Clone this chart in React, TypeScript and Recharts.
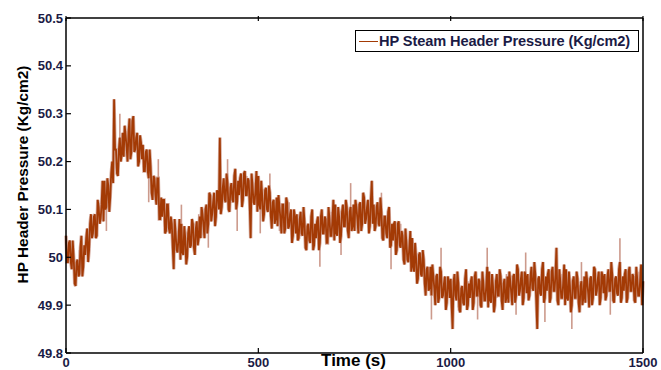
import { LineChart, Line, XAxis, YAxis, Legend, ErrorBar } from "recharts";

// every 5 s (t = 0, 5, 10 ...), band centre plus the visible jitter
const sampleStep = 5;
const pressure = [
  50.045, 49.99, 50.035, 49.975, 50.0, 49.94, 49.995, 49.965, 50.045, 49.98,
  50.005, 50.06, 50.015, 50.09, 50.05, 50.09, 50.045, 50.105, 50.08, 50.16,
  50.16, 50.105, 50.15, 50.125, 50.2, 50.33, 50.225, 50.17, 50.25, 50.215,
  50.21, 50.255, 50.2, 50.29, 50.22, 50.295, 50.225, 50.26, 50.2, 50.24,
  50.235, 50.18, 50.225, 50.165, 50.19, 50.12, 50.165, 50.11, 50.165, 50.08,
  50.085, 50.12, 50.055, 50.11, 50.05, 50.07, 49.975, 50.05, 50.01, 50.08,
  50.07, 50.005, 50.04, 50.0, 50.065, 50.025, 50.07, 50.005, 50.075, 50.04,
  50.04, 50.09, 50.04, 50.11, 50.07, 50.13, 50.09, 50.135, 50.085, 50.135,
  50.25, 50.105, 50.165, 50.115, 50.155, 50.095, 50.155, 50.115, 50.185, 50.115,
  50.13, 50.175, 50.12, 50.18, 50.13, 50.16, 50.04, 50.15, 50.11, 50.18,
  50.17, 50.1, 50.13, 50.09, 50.145, 50.095, 50.135, 50.06, 50.12, 50.08,
  50.065, 50.105, 50.05, 50.11, 50.06, 50.115, 50.065, 50.1, 50.045, 50.085,
  50.09, 50.04, 50.095, 50.045, 50.075, 50.015, 50.07, 50.03, 50.1, 50.025,
  50.04, 50.085, 50.03, 50.1, 50.05, 50.08, 50.03, 50.08, 50.045, 50.12,
  50.11, 50.045, 50.085, 50.045, 50.11, 50.065, 50.105, 50.04, 50.105, 50.065,
  50.055, 50.105, 50.05, 50.115, 50.07, 50.125, 50.08, 50.12, 50.065, 50.16,
  50.11, 50.065, 50.115, 50.065, 50.095, 50.035, 50.085, 50.04, 50.105, 50.025,
  50.035, 50.075, 50.015, 50.075, 50.02, 50.045, 49.985, 50.03, 49.99, 50.055,
  50.04, 49.97, 50.0, 49.955, 50.01, 49.96, 49.995, 49.92, 49.98, 49.935,
  49.92, 49.96, 49.9, 49.965, 49.915, 49.97, 49.92, 49.96, 49.905, 49.95,
  49.955, 49.85, 49.965, 49.91, 49.945, 49.885, 49.94, 49.9, 49.975, 49.9,
  49.915, 49.96, 49.905, 49.97, 49.92, 49.95, 49.895, 49.945, 49.91, 49.98,
  49.97, 49.905, 49.94, 49.9, 49.965, 49.92, 49.96, 49.89, 49.955, 49.915,
  49.905, 49.95, 49.9, 49.965, 49.92, 49.975, 49.93, 49.97, 49.915, 49.96,
  49.965, 49.92, 49.98, 49.93, 49.965, 49.85, 49.96, 49.92, 49.99, 49.915,
  49.93, 49.975, 49.915, 49.98, 49.93, 50.02, 49.9, 49.95, 49.915, 49.985,
  49.975, 49.91, 49.94, 49.9, 49.96, 49.915, 49.955, 49.885, 49.95, 49.915,
  49.905, 49.95, 49.895, 49.96, 49.915, 49.975, 49.93, 49.97, 49.915, 49.96,
  49.965, 49.92, 49.975, 49.93, 49.965, 49.905, 49.96, 49.92, 49.99, 49.915,
  49.93, 49.975, 49.915, 49.98, 49.93, 49.96, 49.905, 49.955, 49.92, 49.985,
  49.95,
];

// the in-between samples (t = 2.5, 7.5, 12.5 ...)
const pressureMid = [
  49.99, 50.03, 49.99, 50.035, 49.945, 49.99, 49.96, 50.02, 49.96, 50.025,
  50.04, 49.99, 50.07, 50.04, 50.085, 50.04, 50.12, 50.07, 50.11, 50.075,
  50.1, 50.165, 50.095, 50.175, 50.155, 50.225, 50.175, 50.225, 50.2, 50.26,
  50.275, 50.23, 50.26, 50.205, 50.285, 50.22, 50.25, 50.19, 50.255, 50.205,
  50.18, 50.22, 50.18, 50.225, 50.135, 50.17, 50.13, 50.165, 50.08, 50.125,
  50.12, 50.05, 50.11, 50.06, 50.085, 50.02, 50.08, 50.015, 50.04, 49.995,
  50.01, 50.065, 49.985, 50.05, 50.02, 50.08, 50.02, 50.06, 50.025, 50.085,
  50.105, 50.065, 50.1, 50.05, 50.135, 50.075, 50.115, 50.065, 50.14, 50.1,
  50.09, 50.145, 50.12, 50.175, 50.1, 50.145, 50.12, 50.17, 50.1, 50.16,
  50.165, 50.105, 50.175, 50.13, 50.165, 50.11, 50.175, 50.115, 50.14, 50.095,
  50.11, 50.16, 50.075, 50.14, 50.1, 50.15, 50.085, 50.115, 50.07, 50.125,
  50.13, 50.08, 50.11, 50.05, 50.125, 50.06, 50.09, 50.03, 50.1, 50.05,
  50.035, 50.08, 50.05, 50.105, 50.02, 50.065, 50.035, 50.085, 50.015, 50.07,
  50.075, 50.015, 50.085, 50.05, 50.085, 50.03, 50.105, 50.045, 50.075, 50.035,
  50.05, 50.105, 50.03, 50.095, 50.065, 50.12, 50.055, 50.095, 50.055, 50.11,
  50.12, 50.08, 50.11, 50.055, 50.135, 50.07, 50.105, 50.05, 50.12, 50.07,
  50.055, 50.105, 50.07, 50.125, 50.04, 50.085, 50.05, 50.095, 50.02, 50.07,
  50.07, 50.005, 50.07, 50.025, 50.055, 49.995, 50.06, 49.995, 50.02, 49.97,
  49.98, 50.03, 49.945, 50.005, 49.965, 50.015, 49.945, 49.975, 49.93, 49.98,
  49.985, 49.935, 49.96, 49.905, 49.98, 49.915, 49.945, 49.89, 49.96, 49.915,
  49.9, 49.95, 49.92, 49.97, 49.89, 49.935, 49.905, 49.955, 49.89, 49.945,
  49.95, 49.89, 49.96, 49.92, 49.955, 49.9, 49.97, 49.91, 49.94, 49.895,
  49.91, 49.965, 49.885, 49.95, 49.92, 49.975, 49.91, 49.945, 49.905, 49.96,
  49.97, 49.925, 49.96, 49.905, 49.985, 49.92, 49.955, 49.9, 49.97, 49.925,
  49.91, 49.96, 49.935, 49.99, 49.91, 49.955, 49.925, 49.975, 49.905, 49.96,
  49.965, 49.905, 49.97, 49.93, 49.965, 49.91, 49.975, 49.915, 49.945, 49.9,
  49.915, 49.97, 49.885, 49.95, 49.915, 49.97, 49.905, 49.94, 49.9, 49.96,
  49.97, 49.925, 49.955, 49.9, 49.98, 49.92, 49.955, 49.9, 49.97, 49.925,
  49.91, 49.96, 49.93, 49.99, 49.91, 49.955, 49.925, 49.975, 49.905, 49.96,
  49.965, 49.905, 49.97, 49.93, 49.965, 49.91, 49.98, 49.92, 49.95, 49.9,
];

// faint single-sample spikes sticking out of the band (time, reach; + up / - down)
const spikeTimes = [
  10, 35, 55, 80, 105, 140, 165, 190, 215, 240, 265, 300, 320, 345, 370, 420, 445, 470,
  505, 530, 555, 580, 610, 635, 660, 690, 715, 740, 765, 820, 845, 870, 895, 925, 950, 975,
  1020, 1045, 1070, 1095, 1120, 1145, 1170, 1195, 1245, 1290, 1315, 1340, 1365, 1390, 1415,
  1440, 1465, 1490,
];
const spikeReach = [
  -0.04, 0.05, -0.04, 0.05, -0.05, 0.05, -0.06, 0.04, -0.05, 0.04, -0.05, 0.04, -0.04, 0.05,
  -0.05, 0.05, -0.06, 0.04, -0.05, 0.04, -0.05, 0.05, -0.05, 0.04, -0.05, 0.05, -0.04, 0.05,
  -0.05, 0.04, -0.05, 0.05, -0.05, 0.04, -0.05, 0.05, -0.05, 0.05, -0.05, 0.04, -0.05, 0.05,
  -0.04, 0.05, -0.05, 0.05, -0.05, 0.04, -0.06, 0.05, -0.05, 0.05, -0.04, 0.05,
];

const xTicks = [0, 500, 1000, 1500];
const yTicks = [49.8, 49.9, 50, 50.1, 50.2, 50.3, 50.4, 50.5];
const seriesName = "HP Steam Header Pressure (Kg/cm2)";
const xTitle = "Time (s)";
const yTitle = "HP Header Pressure (Kg/cm2)";

const data: { t: number; p: number; spike?: number[] }[] = [];
pressure.forEach((p, i) => {
  data.push({ t: i * sampleStep, p });
  if (i < pressureMid.length) data.push({ t: i * sampleStep + sampleStep / 2, p: pressureMid[i] });
});
spikeTimes.forEach((t, i) => {
  const row = data.find((d) => d.t === t);
  const r = spikeReach[i];
  if (row) row.spike = r > 0 ? [0, r] : [-r, 0];
});

const FONT = "'Liberation Sans', Arial, sans-serif";
const LABEL = "#1b1b45";
const LINE = "#a33a05";
const HALO = "#cc9a8c";
const TICK = 5;

function BottomTick(props: any) {
  const { x, y, payload } = props;
  return (
    <g>
      <line x1={x} y1={y} x2={x} y2={y - TICK} stroke="#000" strokeWidth={1.2} />
      <text x={x} y={y + 14} textAnchor="middle" fontFamily={FONT} fontWeight="bold" fontSize={13} fill={LABEL}>
        {payload.value}
      </text>
    </g>
  );
}

function LeftTick(props: any) {
  const { x, y, payload } = props;
  return (
    <g>
      <line x1={x} y1={y} x2={x + TICK} y2={y} stroke="#000" strokeWidth={1.2} />
      <text x={x - 3} y={y + 4.5} textAnchor="end" fontFamily={FONT} fontWeight="bold" fontSize={13} fill={LABEL}>
        {payload.value}
      </text>
    </g>
  );
}

function TopTick(props: any) {
  const { x, y } = props;
  return <line x1={x} y1={y} x2={x} y2={y + TICK} stroke="#000" strokeWidth={1.2} />;
}

function RightTick(props: any) {
  const { x, y } = props;
  return <line x1={x} y1={y} x2={x - TICK} y2={y} stroke="#000" strokeWidth={1.2} />;
}

function LegendBox() {
  return (
    <div
      style={{
        border: "1.5px solid #000",
        background: "#fff",
        width: 282,
        height: 20,
        display: "flex",
        alignItems: "center",
        fontFamily: FONT,
        fontWeight: "bold",
        fontSize: 14.6,
        letterSpacing: -0.1,
        color: LABEL,
        whiteSpace: "nowrap",
      }}
    >
      <span style={{ display: "inline-block", width: 19, height: 0, borderTop: `1.5px solid ${LINE}`, marginLeft: 3, marginRight: 1 }} />
      {seriesName}
    </div>
  );
}

export default function App() {
  return (
    <div style={{ position: "absolute", left: 0, top: 0 }}>
      <LineChart width={661} height={370} data={data} margin={{ top: 17, right: 17, bottom: 0, left: 0 }}>
        <XAxis
          dataKey="t"
          type="number"
          domain={[0, 1500]}
          ticks={xTicks}
          height={17}
          tickSize={0}
          tickMargin={0}
          axisLine={{ stroke: "#000", strokeWidth: 1.5 }}
          tick={<BottomTick />}
          interval={0}
          label={{
            content: (p: any) => (
              <text
                x={p.viewBox.x + p.viewBox.width / 2 - 1}
                y={366}
                textAnchor="middle"
                fontFamily={FONT}
                fontWeight="bold"
                fontSize={17}
                fill="#000"
              >
                {xTitle}
              </text>
            ),
          }}
        />
        <XAxis
          xAxisId="top"
          orientation="top"
          dataKey="t"
          type="number"
          domain={[0, 1500]}
          ticks={xTicks}
          height={1}
          tickSize={0}
          axisLine={{ stroke: "#000", strokeWidth: 1.5 }}
          tick={<TopTick />}
          interval={0}
        />
        <YAxis
          type="number"
          domain={[49.8, 50.5]}
          ticks={yTicks}
          width={66}
          tickSize={0}
          tickMargin={0}
          allowDataOverflow
          axisLine={{ stroke: "#000", strokeWidth: 1.5 }}
          tick={<LeftTick />}
          interval={0}
          label={{
            content: (p: any) => {
              const cx = 22;
              const cy = p.viewBox.y + p.viewBox.height / 2 - 11;
              return (
                <text
                  x={cx}
                  y={cy}
                  transform={`rotate(-90 ${cx} ${cy})`}
                  textAnchor="middle"
                  dominantBaseline="central"
                  fontFamily={FONT}
                  fontWeight="bold"
                  fontSize={15.4}
                  fill="#000"
                >
                  {yTitle}
                </text>
              );
            },
          }}
        />
        <YAxis
          yAxisId="right"
          orientation="right"
          type="number"
          domain={[49.8, 50.5]}
          ticks={yTicks}
          width={1}
          tickSize={0}
          axisLine={{ stroke: "#000", strokeWidth: 1.5 }}
          tick={<RightTick />}
          interval={0}
        />
        <Legend
          layout="horizontal"
          verticalAlign="middle"
          align="center"
          content={<LegendBox />}
          wrapperStyle={{ position: "absolute", top: 30, left: 355, width: "auto" }}
        />
        <Line
          dataKey="p"
          legendType="none"
          type="linear"
          stroke={HALO}
          strokeWidth={3.4}
          strokeOpacity={0.85}
          dot={false}
          activeDot={false}
          isAnimationActive={false}
        >
          <ErrorBar dataKey="spike" direction="y" width={0} stroke={HALO} strokeWidth={1.6} />
        </Line>
        <Line
          dataKey="p"
          name={seriesName}
          type="linear"
          stroke={LINE}
          strokeWidth={1.8}
          dot={false}
          isAnimationActive={false}
        />
      </LineChart>
    </div>
  );
}
